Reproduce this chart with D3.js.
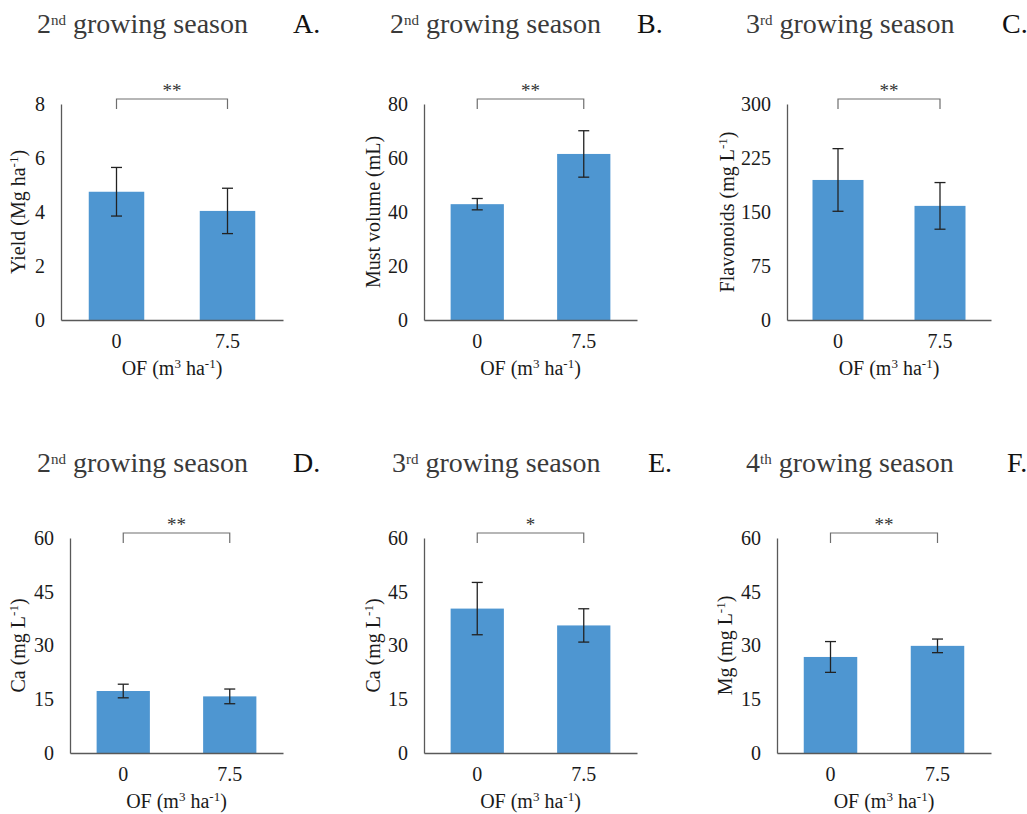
<!DOCTYPE html>
<html>
<head>
<meta charset="utf-8">
<script src="https://cdn.jsdelivr.net/npm/d3@7"></script>
</head>
<body style="margin:0; background:#fff">
<svg id="chart" width="1027" height="814"></svg>
<script>
// data
var categories = ["0", "7.5"];
var letters = ["A.", "B.", "C.", "D.", "E.", "F."];
var seasonNum = ["2", "2", "3", "2", "3", "4"];
var seasonSup = ["nd", "nd", "rd", "nd", "rd", "th"];
var yLabels = [
  ["Yield (Mg ha", "-1", ")"],
  ["Must volume (mL)", "", ""],
  ["Flavonoids (mg L", "-1", ")"],
  ["Ca (mg L", "-1", ")"],
  ["Ca (mg L", "-1", ")"],
  ["Mg (mg L", "-1", ")"]
];
var means  = [[4.75, 4.04], [42.9, 61.5], [194.5, 158.5], [17.3, 15.8], [40.3, 35.6], [26.8, 29.9]];
var errors = [[0.9, 0.84], [2.1, 8.6], [43.5, 32.4], [1.9, 2.05], [7.3, 4.65], [4.3, 1.9]];
var yMax  = [8, 80, 300, 60, 60, 60];
var yStep = [2, 20, 75, 15, 15, 15];
var stars = ["**", "**", "**", "**", "*", "**"];

// where each panel sits
var layout = [
  {x0: 61,  x1: 283, top: 104, bottom: 320, titleX: 37,  letterX: 293,  titleY: 33,  labelX: 18},
  {x0: 424, x1: 637, top: 104, bottom: 320, titleX: 390, letterX: 637,  titleY: 33,  labelX: 373},
  {x0: 787, x1: 991, top: 104, bottom: 320, titleX: 746, letterX: 1002, titleY: 33,  labelX: 727},
  {x0: 70,  x1: 283, top: 538, bottom: 753, titleX: 37,  letterX: 293,  titleY: 472, labelX: 18},
  {x0: 424, x1: 637, top: 538, bottom: 753, titleX: 392, letterX: 648,  titleY: 472, labelX: 373},
  {x0: 777, x1: 991, top: 538, bottom: 753, titleX: 746, letterX: 1007, titleY: 472, labelX: 725}
];

var FONT = "'Liberation Serif', 'Times New Roman', serif";
var svg = d3.select("#chart");
var barColor = "#4e96d1";

function txt(sel, size, color) {
  return sel.style("font-family", FONT).style("font-size", size + "px").style("fill", color || "#1a1a1a");
}

layout.forEach(function(p, i) {
  var g = svg.append("g");

  var x = d3.scaleBand()
    .domain(categories)
    .range([p.x0, p.x1])
    .paddingInner(0.5)
    .paddingOuter(0.25);

  var y = d3.scaleLinear()
    .domain([0, yMax[i]])
    .range([p.bottom, p.top]);

  // title
  var t = txt(g.append("text"), 28, "#3a3a3a")
    .attr("x", p.titleX)
    .attr("y", p.titleY);
  t.append("tspan").text(seasonNum[i]);
  t.append("tspan").attr("baseline-shift", "55%").style("font-size", "15px").text(seasonSup[i]);
  t.append("tspan").text(" growing season");

  txt(g.append("text"), 28, "#111")
    .attr("x", p.letterX)
    .attr("y", p.titleY)
    .text(letters[i]);

  // bars
  g.selectAll("rect.bar")
    .data(means[i])
    .enter().append("rect")
    .attr("class", "bar")
    .attr("x", function(d, j) { return x(categories[j]); })
    .attr("width", x.bandwidth())
    .attr("y", function(d) { return y(d); })
    .attr("height", function(d) { return y(0) - y(d); })
    .attr("fill", barColor);

  // error bars
  var eb = g.selectAll("g.err")
    .data(means[i])
    .enter().append("g")
    .attr("class", "err")
    .attr("transform", function(d, j) { return "translate(" + (x(categories[j]) + x.bandwidth() / 2) + ",0)"; });
  eb.append("line")
    .attr("y1", function(d, j) { return y(d + errors[i][j]); })
    .attr("y2", function(d, j) { return y(d - errors[i][j]); });
  eb.append("line")
    .attr("x1", -5.5).attr("x2", 5.5)
    .attr("y1", function(d, j) { return y(d + errors[i][j]); })
    .attr("y2", function(d, j) { return y(d + errors[i][j]); });
  eb.append("line")
    .attr("x1", -5.5).attr("x2", 5.5)
    .attr("y1", function(d, j) { return y(d - errors[i][j]); })
    .attr("y2", function(d, j) { return y(d - errors[i][j]); });
  eb.selectAll("line").attr("stroke", "#222").attr("stroke-width", 1.3);

  // axes
  var yAxis = g.append("g")
    .attr("transform", "translate(" + p.x0 + ",0)")
    .call(d3.axisLeft(y)
      .tickValues(d3.range(0, yMax[i] + yStep[i] / 2, yStep[i]))
      .tickSize(0)
      .tickPadding(16));
  var xAxis = g.append("g")
    .attr("transform", "translate(0," + p.bottom + ")")
    .call(d3.axisBottom(x).tickSize(0).tickPadding(14));

  [yAxis, xAxis].forEach(function(a) {
    a.attr("font-family", null).attr("font-size", null);
    a.select(".domain").attr("stroke", "#595959").attr("stroke-width", 1.3);
    txt(a.selectAll("text"), 20).attr("fill", null);
  });

  // y label
  var yl = txt(g.append("text"), 20)
    .attr("transform", "translate(" + p.labelX + "," + ((p.top + p.bottom) / 2) + ") rotate(-90)")
    .attr("text-anchor", "middle")
    .attr("dy", "0.35em");
  yl.append("tspan").text(yLabels[i][0]);
  if (yLabels[i][1]) {
    yl.append("tspan").attr("baseline-shift", "super").style("font-size", "13px").text(yLabels[i][1]);
    yl.append("tspan").text(yLabels[i][2]);
  }

  // x label
  var xl = txt(g.append("text"), 20)
    .attr("x", (x(categories[0]) + x(categories[1]) + x.bandwidth()) / 2)
    .attr("y", p.bottom + 55)
    .attr("text-anchor", "middle");
  xl.append("tspan").text("OF (m");
  xl.append("tspan").attr("baseline-shift", "super").style("font-size", "13px").text("3");
  xl.append("tspan").text(" ha");
  xl.append("tspan").attr("baseline-shift", "super").style("font-size", "13px").text("-1");
  xl.append("tspan").text(")");

  // significance bracket
  var c0 = x(categories[0]) + x.bandwidth() / 2;
  var c1 = x(categories[1]) + x.bandwidth() / 2;
  var by = p.top - 5;
  g.append("path")
    .attr("d", d3.line()([[c0, by + 10], [c0, by], [c1, by], [c1, by + 10]]))
    .attr("fill", "none")
    .attr("stroke", "#6e6e6e")
    .attr("stroke-width", 1.2);
  txt(g.append("text"), 19, "#333")
    .attr("x", (c0 + c1) / 2)
    .attr("y", by - 2)
    .attr("text-anchor", "middle")
    .text(stars[i]);
});
</script>
</body>
</html>
